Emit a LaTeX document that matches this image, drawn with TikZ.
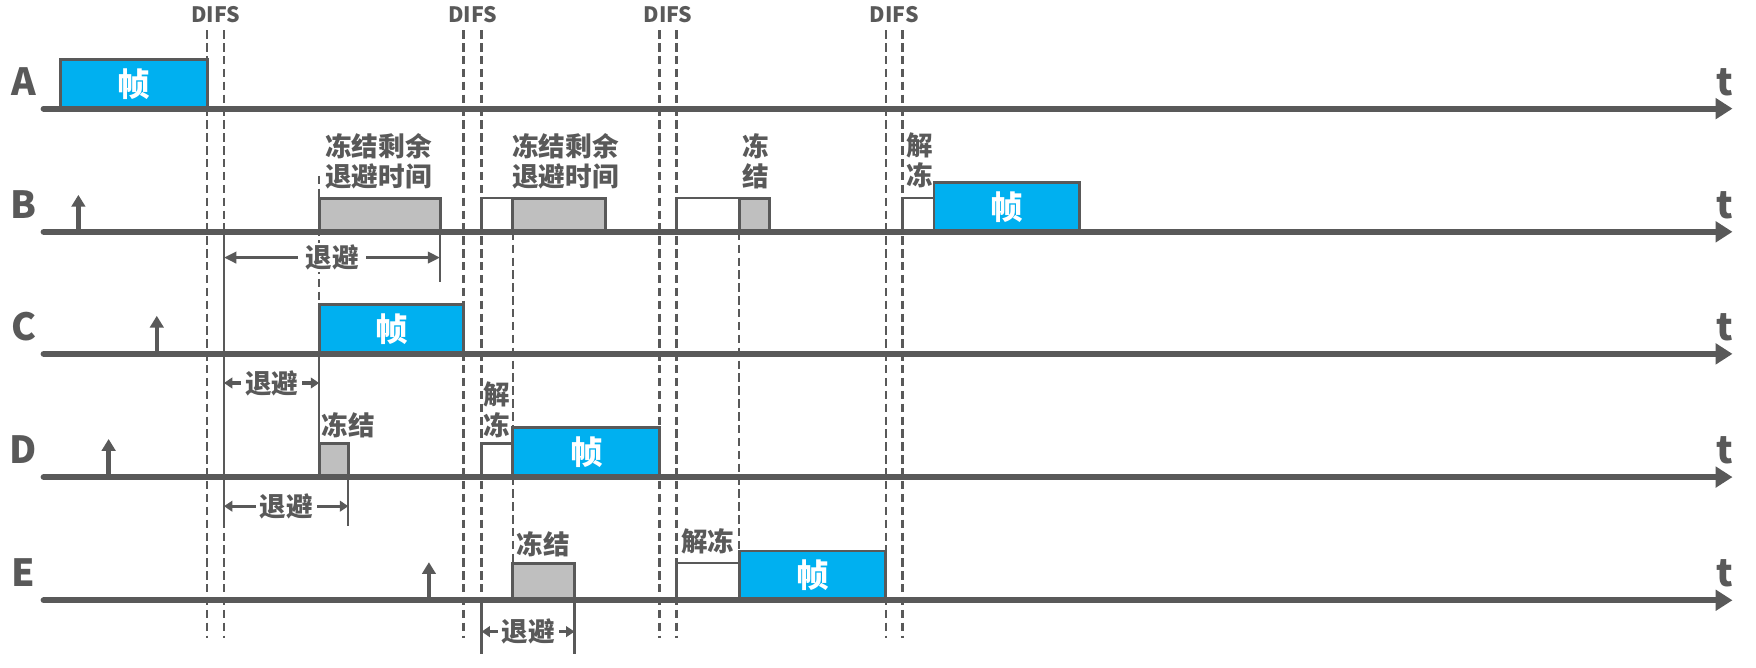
\documentclass[tikz,border=0pt]{standalone}
\usepackage{fontspec}
\setmainfont{Noto Sans CJK SC}
\usetikzlibrary{arrows.meta}

\definecolor{linegray}{HTML}{595959}
\definecolor{frameblue}{HTML}{00B0F0}
\definecolor{boxgray}{HTML}{BFBFBF}

\begin{document}
\begin{tikzpicture}[x=0.2mm, y=-0.2mm,
  timeaxis/.style={line width=3.1pt, linegray, line cap=round, -{Triangle[length=3mm,width=3.6mm]}},
  arrival/.style={line width=2.3pt, linegray, -{Triangle[length=2.1mm,width=2.4mm]}},
  difsline/.style={linegray, line width=1.3pt, dash pattern=on 1.5mm off 0.8mm},
  endline/.style={linegray, line width=1.2pt},
  sendbox/.style={draw=linegray, line width=1.5pt, fill=frameblue},
  frozenbox/.style={draw=linegray, line width=1.5pt, fill=boxgray},
  waitbox/.style={draw=linegray, line width=1.2pt, fill=white},
  frametxt/.style={text=white, font=\fontsize{16.5}{18}\selectfont\bfseries},
  lbl/.style={text=linegray, font=\fontsize{13.5}{15.5}\selectfont\bfseries, align=center, inner sep=0pt},
  rowlbl/.style={text=linegray, font=\fontsize{19}{19}\selectfont\bfseries, anchor=base},
  difslbl/.style={text=linegray, font=\fontsize{10.8}{12}\selectfont\bfseries, anchor=base},
  backoff/.style={linegray, line width=1.8pt, {Triangle[length=2.2mm,width=2mm]}-{Triangle[length=2.2mm,width=2mm]}},
  backoffs/.style={linegray, line width=1.6pt, {Triangle[length=1.5mm,width=1.9mm]}-{Triangle[length=1.5mm,width=1.9mm]}},
  backofftxt/.style={text=linegray, font=\fontsize{13.5}{15.5}\selectfont\bfseries, fill=white, inner xsep=4pt, inner ysep=1pt}
]
\useasboundingbox (0,0) rectangle (1568,596);

% DIFS intervals
\foreach \xa/\xb/\n in {185/200/1, 414/430/2, 589/604/3, 791/806/4}{
  \draw[difsline] (\xa,27) -- (\xa,570);
  \draw[difsline] (\xb,27) -- (\xb,570);
  \node[difslbl] (difs\n) at ({(\xa+\xb)/2},20) {DIFS};
}

% Freeze / resume guides
\draw[difsline] (285,157) -- (285,272);
\draw[difsline] (458,207) -- (458,503);
\draw[difsline] (660,207) -- (660,492);

% Backoff end lines
\draw[endline] (200,207) -- (200,470);
\draw[endline] (393,207) -- (393,252);
\draw[endline] (285,316) -- (285,396);
\draw[endline] (311,426) -- (311,470);
\draw[endline] (430,536) -- (430,584);
\draw[endline] (513,536) -- (513,584);

% Station A
\draw[sendbox] (54,53) rectangle node[frametxt] (frameA) {帧} (185,97);

% Station B
\draw[frozenbox] (285,177) rectangle (393,207);
\draw[waitbox] (430,177) rectangle (458,207);
\draw[frozenbox] (458,177) rectangle (541,207);
\draw[waitbox] (604,177) rectangle (660,207);
\draw[frozenbox] (660,177) rectangle (687,207);
\draw[waitbox] (806,177) rectangle (834,207);
\draw[sendbox] (834,163) rectangle node[frametxt] (frameB) {帧} (964,207);
\node[lbl] (restB1) at (338,144) {冻结剩余\\退避时间};
\node[lbl] (restB2) at (505,144) {冻结剩余\\退避时间};
\node[lbl] (freezeB) at (675,144) {冻\\结};
\node[lbl] (thawB) at (821,143) {解\\冻};

% Station C
\draw[sendbox] (285,272) rectangle node[frametxt] (frameC) {帧} (414,316);

% Station D
\draw[frozenbox] (285,396) rectangle (311,426);
\draw[waitbox] (430,396) rectangle (458,426);
\draw[sendbox] (458,382) rectangle node[frametxt] (frameD) {帧} (589,426);
\node[lbl] (freezeD) at (311,380) {冻结};
\node[lbl] (thawD) at (444,366) {解\\冻};

% Station E
\draw[frozenbox] (458,503) rectangle (513,536);
\draw[waitbox] (604,503) rectangle (660,536);
\draw[sendbox] (660,492) rectangle node[frametxt] (frameE) {帧} (791,536);
\node[lbl] (freezeE) at (485,486) {冻结};
\node[lbl] (thawE) at (632,483) {解冻};

% Time axes
\foreach \r/\y in {A/97, B/207, C/316, D/426, E/536}{
  \coordinate (start\r) at (39,\y);
  \coordinate (end\r) at (1547,\y);
  \draw[timeaxis] (start\r) -- (end\r);
  \node[rowlbl] (row\r) at (21,\y-12) {\r};
  \node[rowlbl] (t\r) at (1540,\y-12) {t};
}

% Arrivals
\coordinate (arrB) at (70,174);
\coordinate (arrC) at (140,282);
\coordinate (arrD) at (97,392);
\coordinate (arrE) at (383,502);
\draw[arrival] (arrB |- startB) -- (arrB);
\draw[arrival] (arrC |- startC) -- (arrC);
\draw[arrival] (arrD |- startD) -- (arrD);
\draw[arrival] (arrE |- startE) -- (arrE);

% Backoff times
\coordinate (bkB0) at (200,230);
\coordinate (bkB1) at (393,230);
\coordinate (bkC0) at (200,342);
\coordinate (bkC1) at (285,342);
\coordinate (bkD0) at (200,452);
\coordinate (bkD1) at (311,452);
\coordinate (bkE0) at (430,564);
\coordinate (bkE1) at (513,564);
\draw[backoff] (bkB0) -- node[backofftxt] (bkB) {退避} (bkB1);
\draw[backoffs] (bkC0) -- node[backofftxt, inner xsep=2pt] (bkC) {退避} (bkC1);
\draw[backoffs] (bkD0) -- node[backofftxt, inner xsep=2pt] (bkD) {退避} (bkD1);
\draw[backoffs] (bkE0) -- node[backofftxt, inner xsep=2pt] (bkE) {退避} (bkE1);
\end{tikzpicture}
\end{document}
